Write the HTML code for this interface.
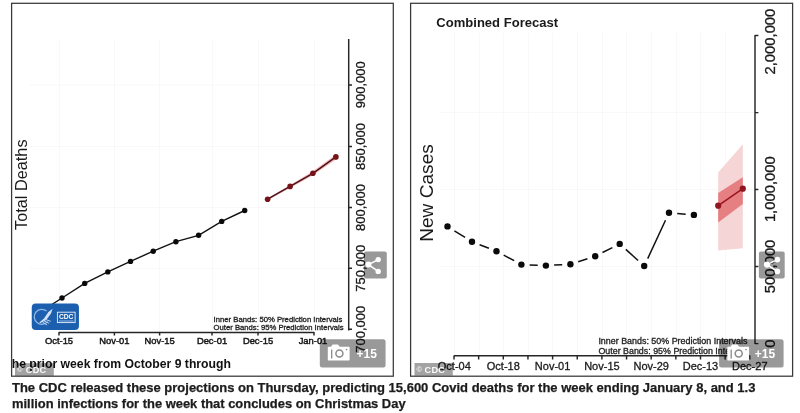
<!DOCTYPE html>
<html>
<head>
<meta charset="utf-8">
<title>CDC projections</title>
<style>
html,body{margin:0;padding:0;background:#fff;}
body{width:800px;height:413px;position:relative;overflow:hidden;font-family:"Liberation Sans",sans-serif;}
svg{position:absolute;left:0;top:0;display:block;filter:blur(0.35px);}
svg text{font-family:"Liberation Sans",sans-serif;}
.cap{position:absolute;left:12px;top:378px;width:780px;font-family:"Liberation Sans",sans-serif;font-weight:bold;font-size:12px;line-height:16px;color:#111;white-space:nowrap;}
</style>
</head>
<body>
<svg width="800" height="413" viewBox="0 0 800 413">
<defs>
<clipPath id="clipL"><rect x="12" y="4" width="381" height="372"/></clipPath>
<clipPath id="clipR"><rect x="411" y="4" width="381" height="372"/></clipPath>
</defs>

<!-- ================= LEFT PANEL ================= -->
<g id="left">
<!-- faint grid -->
<g stroke="#f8f8f8" stroke-width="1">
<line x1="59.5" y1="40" x2="59.5" y2="332"/><line x1="114.5" y1="40" x2="114.5" y2="332"/><line x1="159.5" y1="40" x2="159.5" y2="332"/><line x1="212.5" y1="40" x2="212.5" y2="332"/><line x1="258.5" y1="40" x2="258.5" y2="332"/><line x1="314.5" y1="40" x2="314.5" y2="332"/>
<line x1="30" y1="85" x2="348" y2="85"/><line x1="30" y1="146.5" x2="348" y2="146.5"/><line x1="30" y1="207.5" x2="348" y2="207.5"/><line x1="30" y1="268.5" x2="348" y2="268.5"/>
</g>
<!-- y label -->
<text transform="translate(27,184.7) rotate(-90)" text-anchor="middle" font-size="16.3" fill="#1a1a1a">Total Deaths</text>
<!-- x axis -->
<g stroke="#262626" stroke-width="1.45" fill="none">
<path d="M59,332.4 H314"/>
<path d="M59,332 V335.6 M114.4,332 V335.6 M159.6,332 V335.6 M212,332 V335.6 M258,332 V335.6 M314,332 V335.6"/>
<!-- y axis -->
<path d="M348.7,39 V330.4"/>
<path d="M348.7,85 H352 M348.7,146.5 H352 M348.7,207.5 H352 M348.7,268.3 H352 M348.7,329.3 H352"/>
</g>
<g font-size="9.4" fill="#151515" text-anchor="middle" stroke="#151515" stroke-width="0.45">
<text x="59" y="344.2">Oct-15</text><text x="114.4" y="344.2">Nov-01</text><text x="159.6" y="344.2">Nov-15</text><text x="212" y="344.2">Dec-01</text><text x="258" y="344.2">Dec-15</text><text x="313" y="344.2">Jan-01</text>
</g>
<g font-size="13" fill="#1a1a1a" text-anchor="middle" stroke="#1a1a1a" stroke-width="0.3">
<text transform="translate(365.2,84.8) rotate(-90)">900,000</text>
<text transform="translate(365.2,146.5) rotate(-90)">850,000</text>
<text transform="translate(365.2,207.5) rotate(-90)">800,000</text>
<text transform="translate(365.2,268.3) rotate(-90)">750,000</text>
<text transform="translate(365.2,329.3) rotate(-90)">700,000</text>
</g>
<!-- legend -->
<g font-size="7.3" fill="#222" stroke="#222" stroke-width="0.3">
<text x="213.6" y="321.6" textLength="128.8" lengthAdjust="spacingAndGlyphs">Inner Bands: 50% Prediction Intervals</text>
<text x="213.6" y="330.4" textLength="130" lengthAdjust="spacingAndGlyphs">Outer Bands: 95% Prediction Intervals</text>
</g>
<!-- observed -->
<polyline fill="none" stroke="#111" stroke-width="1.4" points="39.3,312.6 62,298 84.7,283.4 107.8,271.9 130.5,261.4 153.2,251.2 175.9,241.7 198.6,235.3 221.7,221.4 244.7,210.5"/>
<g fill="#0a0a0a">
<circle cx="62" cy="298" r="2.7"/><circle cx="84.7" cy="283.4" r="2.7"/><circle cx="107.8" cy="271.9" r="2.7"/><circle cx="130.5" cy="261.4" r="2.7"/><circle cx="153.2" cy="251.2" r="2.7"/><circle cx="175.9" cy="241.7" r="2.7"/><circle cx="198.6" cy="235.3" r="2.7"/><circle cx="221.7" cy="221.4" r="2.7"/><circle cx="244.7" cy="210.5" r="2.7"/>
</g>
<!-- forecast -->
<polygon fill="#f2b5b8" points="267.6,198.2 290.1,184.9 312.9,171.3 335.9,154.4 335.9,159.4 312.9,175.3 290.1,187.9 267.6,200.2"/>
<polyline fill="none" stroke="#4a0f14" stroke-width="1.4" points="267.6,199.2 290.1,186.4 312.9,173.3 335.9,156.9"/>
<g fill="#761319">
<circle cx="267.6" cy="199.2" r="2.8"/><circle cx="290.1" cy="186.4" r="2.8"/><circle cx="312.9" cy="173.3" r="2.8"/><circle cx="335.9" cy="156.9" r="2.8"/>
</g>
<!-- CDC logo -->
<g>
<rect x="31.75" y="303.5" width="47.2" height="26.5" rx="4" fill="#1c5fae"/>
<path d="M46.6,311.05 A7.5,7.5 0 1 0 47.55,321.6" fill="none" stroke="#8db6e6" stroke-width="1.3"/>
<path d="M52.6,308.8 L51,313.6 L46.2,320 L40,323.3 L39.5,322.3 L44,318.4 L48.4,312 Z" fill="#d3e1f4"/>
<path d="M45.2,319.4 L50.4,321.2 M44,320.9 L48.8,323.2 M42.8,322.2 L46.8,324.8" stroke="#bcd2ee" stroke-width="1" fill="none" stroke-linecap="round"/>
<rect x="57.4" y="312.2" width="17.7" height="10.4" fill="#1c5fae" stroke="#e8f0fa" stroke-width="0.9"/>
<text x="66.2" y="319.2" font-size="6.6" font-weight="bold" fill="#fff" text-anchor="middle" textLength="14.5" lengthAdjust="spacingAndGlyphs">CDC</text>
<line x1="59" y1="321" x2="73.5" y2="321" stroke="#9cc2ec" stroke-width="0.9"/>
</g>
<!-- overlay text -->
<g clip-path="url(#clipL)">
<text x="11.7" y="367.9" font-size="13.2" font-weight="bold" fill="#111" textLength="219.3" lengthAdjust="spacingAndGlyphs">he prior week from October 9 through</text>
<text x="12" y="385" font-size="12.8" font-weight="bold" fill="#111" textLength="290" lengthAdjust="spacingAndGlyphs">October 16, the model's death through January 8, 2022</text>
</g>
<!-- border -->
<rect x="11.6" y="3.3" width="381.7" height="372.9" fill="none" stroke="#383838" stroke-width="1.25"/>
<!-- copyright badge -->
<rect x="15" y="363.2" width="38.8" height="12.6" fill="#000" fill-opacity="0.36"/>
<text x="17" y="372.2" font-size="7.4" font-weight="bold" fill="#fff" fill-opacity="0.9">©</text><text x="25.8" y="372.7" font-size="9.2" font-weight="bold" fill="#fff" fill-opacity="0.95" textLength="20.4" lengthAdjust="spacing">CDC</text>
<!-- share button -->
<rect x="364" y="251.6" width="22.8" height="26.8" rx="2" fill="#000" fill-opacity="0.4"/>
<g stroke="#fff" stroke-width="1.6" fill="#fff">
<path d="M368.4,264.6 L378.2,259.6 M368.4,264.6 L378.2,271.4" fill="none"/>
<circle cx="368.4" cy="264.6" r="3" stroke="none"/><circle cx="378.2" cy="259.6" r="2.7" stroke="none"/><circle cx="378.2" cy="271.4" r="2.7" stroke="none"/>
</g>
<!-- camera button -->
<rect x="319.8" y="339.2" width="65.8" height="28.4" rx="2.5" fill="#000" fill-opacity="0.4"/>
<g>
<path d="M328.6,346.7 H331.0 L332.6,344.4 H338.0 L339.7,346.7 H348.8 Q349.6,346.7 349.6,347.5 V359.7 Q349.6,360.5 348.8,360.5 H328.6 Q327.8,360.5 327.8,359.7 V347.5 Q327.8,346.7 328.6,346.7 Z" fill="#fff"/>
<circle cx="339.4" cy="353.5" r="3.5" fill="none" stroke="#8a8a8a" stroke-width="1.5"/>
<line x1="331.7" y1="349.4" x2="331.7" y2="358.6" stroke="#8a8a8a" stroke-width="1.3"/>
<circle cx="346.5" cy="349.6" r="0.8" fill="#8a8a8a"/>
</g>
<text x="356.6" y="357.7" font-size="12" font-weight="bold" fill="#fff">+15</text>
</g>

<!-- ================= RIGHT PANEL ================= -->
<g id="right">
<g stroke="#f8f8f8" stroke-width="1">
<line x1="454.5" y1="33" x2="454.5" y2="356"/><line x1="479.5" y1="33" x2="479.5" y2="356"/><line x1="503.5" y1="33" x2="503.5" y2="356"/><line x1="528.5" y1="33" x2="528.5" y2="356"/><line x1="552.5" y1="33" x2="552.5" y2="356"/><line x1="577.5" y1="33" x2="577.5" y2="356"/><line x1="602.5" y1="33" x2="602.5" y2="356"/><line x1="626.5" y1="33" x2="626.5" y2="356"/><line x1="651.5" y1="33" x2="651.5" y2="356"/><line x1="676.5" y1="33" x2="676.5" y2="356"/><line x1="700.5" y1="33" x2="700.5" y2="356"/><line x1="725.5" y1="33" x2="725.5" y2="356"/>
<line x1="440" y1="112.5" x2="755" y2="112.5"/><line x1="440" y1="189.5" x2="755" y2="189.5"/><line x1="440" y1="266.5" x2="755" y2="266.5"/>
</g>
<text x="436.3" y="26.8" font-size="12.3" font-weight="bold" fill="#1a1a1a" textLength="121.8" lengthAdjust="spacingAndGlyphs">Combined Forecast</text>
<text transform="translate(433.2,193) rotate(-90)" text-anchor="middle" font-size="19.1" fill="#1a1a1a">New Cases</text>
<!-- axes -->
<g stroke="#262626" stroke-width="1.45" fill="none">
<path d="M454,355.8 H749.8"/>
<path d="M454,355.4 V359.6 M478.65,355.4 V359.6 M503.3,355.4 V359.6 M527.95,355.4 V359.6 M552.6,355.4 V359.6 M577.25,355.4 V359.6 M601.9,355.4 V359.6 M626.55,355.4 V359.6 M651.2,355.4 V359.6 M675.85,355.4 V359.6 M700.5,355.4 V359.6 M725.15,355.4 V359.6 M749.8,355.4 V359.6"/>
<path d="M755,35 V344"/>
<path d="M755,35.4 H758.4 M755,112.6 H758.4 M755,189.4 H758.4 M755,266.4 H758.4 M755,343.6 H758.4"/>
</g>
<g font-size="11" fill="#1a1a1a" text-anchor="middle" stroke="#1a1a1a" stroke-width="0.3">
<text x="454.3" y="369.5">Oct-04</text><text x="503.3" y="369.5">Oct-18</text><text x="552.6" y="369.5">Nov-01</text><text x="601.9" y="369.5">Nov-15</text><text x="651.2" y="369.5">Nov-29</text><text x="700.5" y="369.5">Dec-13</text><text x="749.8" y="369.5">Dec-27</text>
</g>
<g font-size="14.8" fill="#1a1a1a" text-anchor="middle" stroke="#1a1a1a" stroke-width="0.3">
<text transform="translate(775,41.6) rotate(-90)">2,000,000</text>
<text transform="translate(775,189.2) rotate(-90)">1,000,000</text>
<text transform="translate(775,266.4) rotate(-90)">500,000</text>
<text transform="translate(775,343.6) rotate(-90)">0</text>
</g>
<!-- legend -->
<g font-size="8.2" fill="#222" stroke="#222" stroke-width="0.3">
<text x="598.4" y="343.5" textLength="149" lengthAdjust="spacingAndGlyphs">Inner Bands: 50% Prediction Intervals</text>
<text x="598.4" y="353.6" textLength="150.5" lengthAdjust="spacingAndGlyphs">Outer Bands: 95% Prediction Intervals</text>
</g>
<!-- observed: type b -->
<g stroke="#111" stroke-width="1.5" fill="none" id="rlines"><path d="M454.4,230.8 L465.1,237.4 M479.6,244.8 L488.9,248.3 M503.7,255.2 L514.2,260.7 M529.6,264.9 L537.7,265.3 M554.1,265.1 L562.2,264.7 M578.2,261.7 L587.4,258.7 M602.5,252.5 L612.4,247.6 M625.8,249.4 L638.1,260.5 M647.7,258.6 L665.5,220.2 M677.2,213.5 L685.7,214.2"/></g>
<g fill="#0a0a0a" id="rpts"><circle cx="447.5" cy="226.4" r="3.2"/><circle cx="472.0" cy="241.8" r="3.2"/><circle cx="496.5" cy="251.3" r="3.2"/><circle cx="521.4" cy="264.6" r="3.2"/><circle cx="545.9" cy="265.6" r="3.2"/><circle cx="570.4" cy="264.2" r="3.2"/><circle cx="595.2" cy="256.2" r="3.2"/><circle cx="619.7" cy="243.9" r="3.2"/><circle cx="644.2" cy="266.0" r="3.2"/><circle cx="669.0" cy="212.8" r="3.2"/><circle cx="693.9" cy="214.9" r="3.2"/></g>
<!-- forecast -->
<polygon fill="#f6d5d6" points="718.2,172.6 742.8,144.2 742.8,248.3 718.2,250.5"/>
<polygon fill="#e57f82" points="718.2,193 742.8,177.3 742.8,204 718.2,222.4"/>
<line x1="718.2" y1="205.7" x2="742.8" y2="188.7" stroke="#9a1620" stroke-width="1.6"/>
<circle cx="718.2" cy="205.7" r="3.1" fill="#8f1520"/><circle cx="742.8" cy="188.7" r="3.1" fill="#8f1520"/>
<!-- border -->
<rect x="410.6" y="3.3" width="382" height="372.9" fill="none" stroke="#383838" stroke-width="1.25"/>
<!-- badge -->
<rect x="414.5" y="363" width="38.3" height="12.6" fill="#000" fill-opacity="0.36"/>
<text x="416.4" y="372.2" font-size="7.4" font-weight="bold" fill="#fff" fill-opacity="0.9">©</text><text x="424.6" y="372.7" font-size="9.2" font-weight="bold" fill="#fff" fill-opacity="0.95" textLength="20.4" lengthAdjust="spacing">CDC</text>
<!-- share -->
<rect x="758.9" y="251.6" width="25.8" height="26.8" rx="2" fill="#000" fill-opacity="0.4"/>
<g fill="#fff">
<path d="M767,264.6 L777.4,259.6 M767,264.6 L777.4,271.4" fill="none" stroke="#fff" stroke-width="1.6"/>
<circle cx="767" cy="264.6" r="3.1"/><circle cx="777.4" cy="259.6" r="2.8"/><circle cx="777.4" cy="271.4" r="2.8"/>
</g>
<!-- camera -->
<rect x="719.1" y="339.2" width="64.5" height="28.4" rx="2.5" fill="#000" fill-opacity="0.4"/>
<g>
<path d="M728.1,346.7 H730.5 L732.1,344.4 H737.5 L739.2,346.7 H748.3 Q749.1,346.7 749.1,347.5 V359.7 Q749.1,360.5 748.3,360.5 H728.1 Q727.3,360.5 727.3,359.7 V347.5 Q727.3,346.7 728.1,346.7 Z" fill="#fff"/>
<circle cx="738.7" cy="353.5" r="3.5" fill="none" stroke="#8a8a8a" stroke-width="1.5"/>
<line x1="731.2" y1="349.4" x2="731.2" y2="358.6" stroke="#8a8a8a" stroke-width="1.3"/>
<circle cx="746.0" cy="349.6" r="0.8" fill="#8a8a8a"/>
</g>
<text x="754.8" y="357.7" font-size="12" font-weight="bold" fill="#fff">+15</text>
</g>
<g font-size="12.2" font-weight="bold" fill="#1c1c1c" stroke="#1c1c1c" stroke-width="0.25">
<text x="12" y="391.6" textLength="743.4" lengthAdjust="spacingAndGlyphs">The CDC released these projections on Thursday, predicting 15,600 Covid deaths for the week ending January 8, and 1.3</text>
<text x="12" y="408" textLength="393.6" lengthAdjust="spacingAndGlyphs">million infections for the week that concludes on Christmas Day</text>
</g>
</svg>
</body>
</html>
